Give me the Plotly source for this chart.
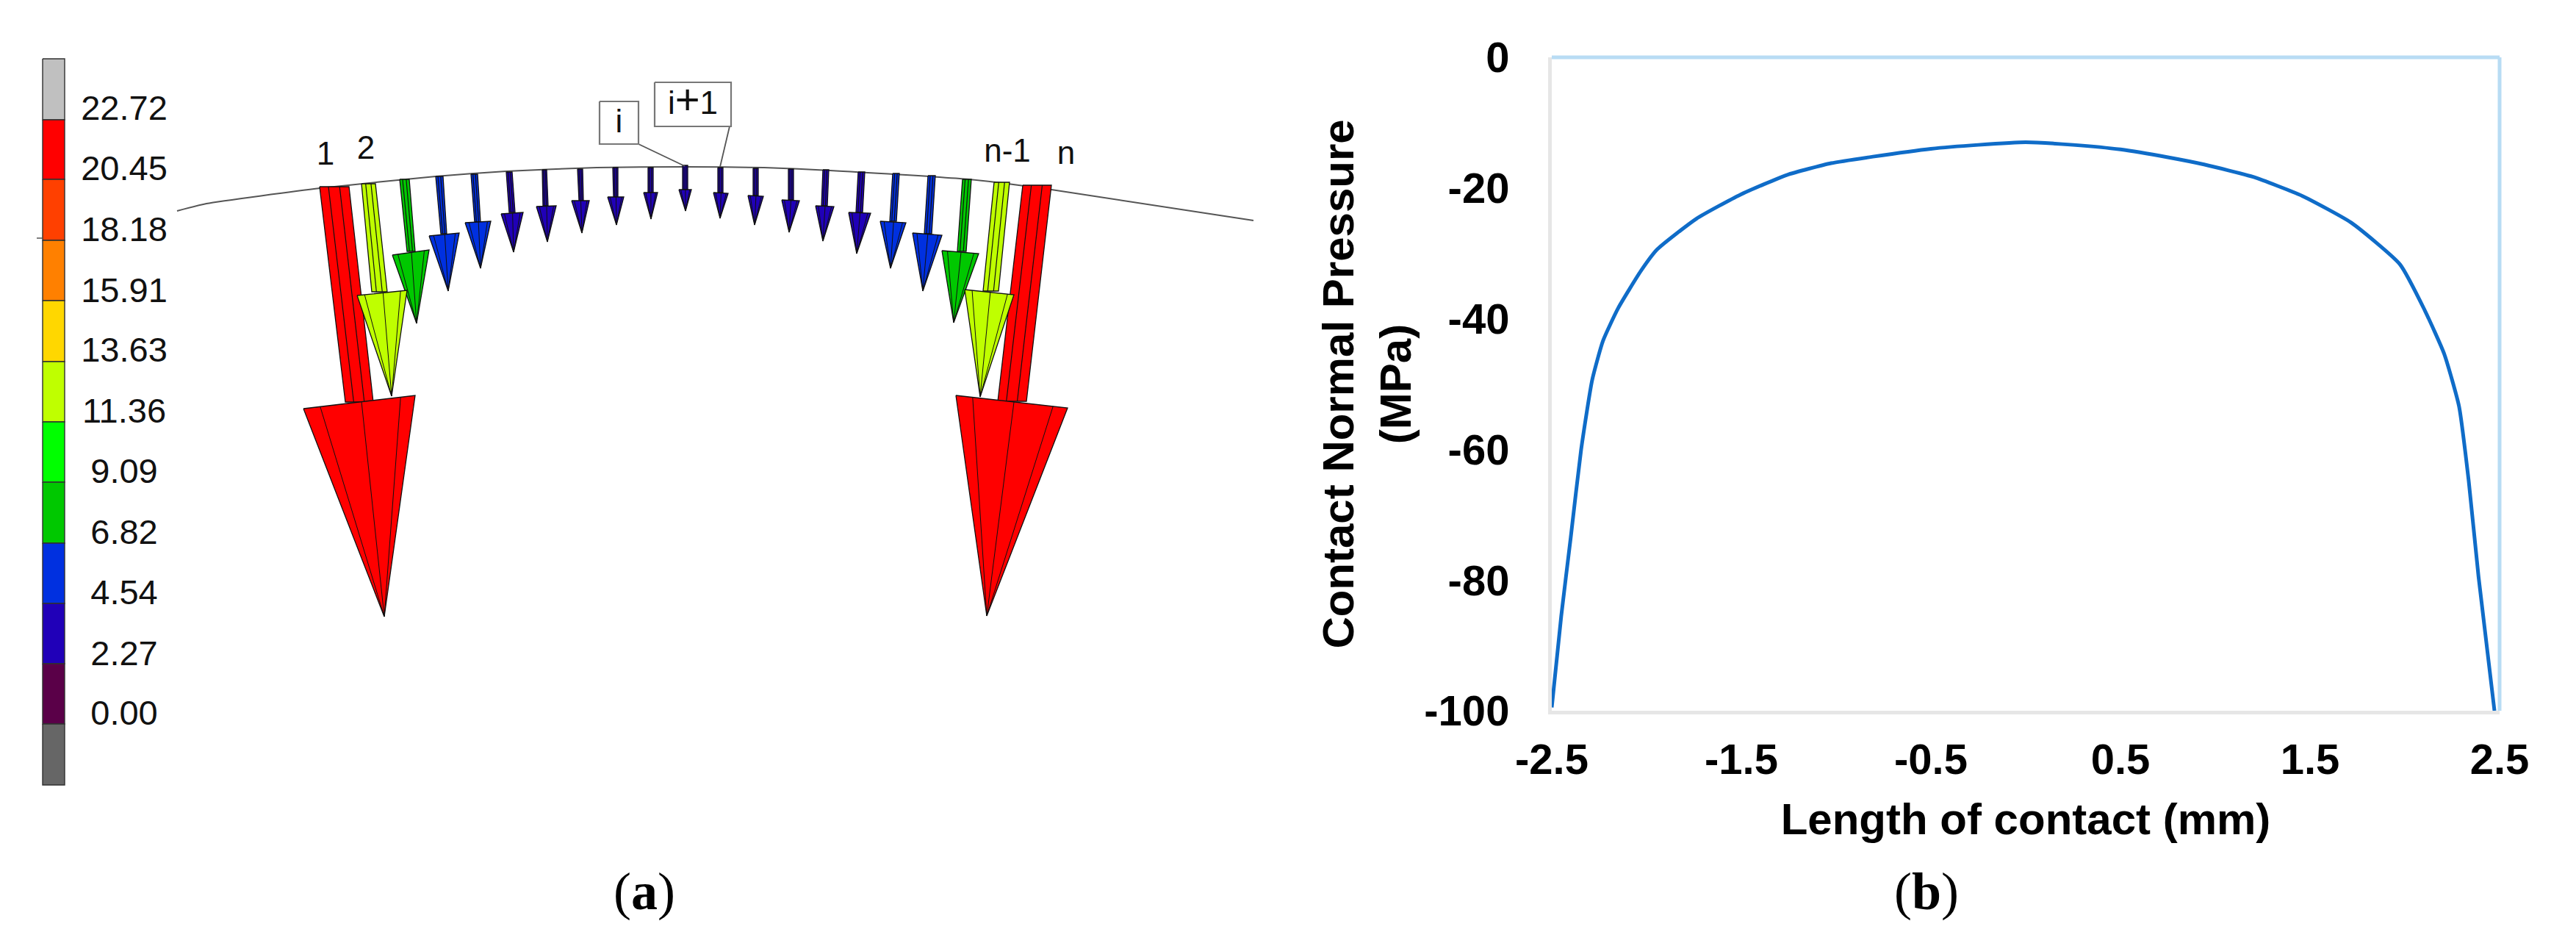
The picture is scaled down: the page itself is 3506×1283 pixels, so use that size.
import plotly.graph_objects as go

# ---------- panel (b): contact pressure curve ----------
contact_x = [-2.5, -2.45, -2.40, -2.345, -2.287, -2.23, -2.15, -2.03, -1.944, -1.737, -1.504, -1.26, -1.026,
             -0.806, -0.5, -0.25, 0.0, 0.25, 0.5, 0.75, 0.941, 1.2, 1.458, 1.717, 1.975, 2.105, 2.208, 2.286,
             2.337, 2.389, 2.473]
contact_p = [-99.5, -85.5, -73.5, -60, -49.4, -43.4, -38.4, -32.7, -29.4, -24.7, -21, -18, -16.2,
             -15.2, -14, -13.4, -13, -13.4, -14.1, -15.3, -16.4, -18.3, -21.2, -25.3, -31.7, -38.7, -45.4, -53.4,
             -64.8, -79.5, -100]
x_ticks = [-2.5, -1.5, -0.5, 0.5, 1.5, 2.5]
x_tick_text = ["-2.5", "-1.5", "-0.5", "0.5", "1.5", "2.5"]
y_ticks = [0, -20, -40, -60, -80, -100]
y_tick_text = ["0", "-20", "-40", "-60", "-80", "-100"]

# ---------- panel (a): legend ----------
legend_labels = ["22.72", "20.45", "18.18", "15.91", "13.63", "11.36", "9.09", "6.82", "4.54", "2.27", "0.00"]
legend_label_y = [151, 233, 316, 399, 480, 563, 645, 728, 810, 893, 974]
legend_colors = ["#c0c0c0", "#ff0000", "#ff4000", "#ff8000", "#ffd700", "#bfff00", "#00ff00", "#00c800",
                 "#0030e0", "#2000b8", "#5a0048", "#666666"]
legend_edges = [80, 163, 244, 327, 409, 492, 574, 656, 739, 821, 903, 985, 1068]

# ---------- panel (a): contact arc ----------
arc_x = [241, 281, 436, 593, 689, 812, 932, 1040, 1130, 1319, 1431, 1706]
arc_y = [287, 277, 256, 240, 233, 228, 227, 228, 232, 244, 258, 300]

# ---------- panel (a): force arrows, one entry per node ----------
top_l = [435, 492, 544, 593, 641, 689, 738, 786, 834, 882, 929, 977, 1025, 1073, 1120, 1168, 1215, 1263, 1310, 1353, 1392]
top_r = [475, 511, 557, 603, 650, 697, 744, 793, 841, 889, 936, 984, 1032, 1080, 1128, 1177, 1224, 1273, 1322, 1374, 1431]
top_y = [254, 250, 244, 240, 237, 234, 231, 230, 228, 228, 225, 228, 229, 230, 231, 234, 236, 239, 244, 248, 252]
neck_l = [470, 506, 554, 600, 646, 693, 739, 788, 835, 882, 929, 977, 1025, 1073, 1118, 1165, 1211, 1258, 1303, 1338, 1358]
neck_r = [508, 527, 565, 608, 654, 701, 746, 794, 841, 889, 936, 984, 1032, 1080, 1126, 1174, 1220, 1268, 1315, 1359, 1397]
neck_y = [547, 397, 342, 318, 302, 289, 280, 273, 268, 262, 258, 262, 266, 272, 280, 289, 301, 318, 342, 396, 546]
head_lx = [413, 486, 534, 584, 633, 682, 730, 778, 827, 876, 924, 971, 1018, 1064, 1110, 1155, 1198, 1242, 1282, 1313, 1301]
head_ly = [556, 402, 347, 321, 303, 291, 281, 273, 268, 262, 258, 262, 266, 272, 280, 289, 301, 317, 341, 394, 538]
head_rx = [565, 554, 584, 625, 668, 712, 757, 802, 849, 895, 941, 991, 1039, 1088, 1135, 1185, 1233, 1282, 1332, 1380, 1453]
head_ry = [538, 395, 340, 317, 301, 289, 280, 273, 268, 262, 258, 263, 267, 273, 281, 290, 303, 320, 345, 401, 555]
tip_x = [523, 533, 567, 610, 654, 699, 745, 792, 839, 886, 933, 980, 1027, 1074, 1120, 1166, 1212, 1256, 1298, 1334, 1343]
tip_y = [839, 539, 440, 396, 365, 343, 329, 317, 306, 298, 287, 297, 306, 316, 328, 345, 365, 396, 439, 540, 838]
arrow_color = [1, 5, 7, 8, 8, 9, 9, 9, 9, 9, 9, 9, 9, 9, 9, 9, 8, 8, 7, 5, 1]

node_labels = ["1", "2", "n-1", "n"]
node_label_x = [443, 498, 1371, 1451]
node_label_y = [213, 205, 209, 212]

callout_text = ["i", "i<span style='font-size:58px'>+</span>1"]
callout_x0 = [816, 891]
callout_x1 = [869, 995]
callout_y0 = [138, 112]
callout_y1 = [196, 172]
callout_text_y = [169, 144]
leader_x = [[869, 932], [993, 980]]
leader_y = [[196, 226], [172, 227]]

panel_labels = ["(<b>a</b>)", "(<b>b</b>)"]
panel_label_x = [877, 2622]
panel_label_y = [1219, 1219]

W, H = 3506, 1283
PLOT_L, PLOT_R, PLOT_T, PLOT_B = 2112, 3402, 78, 967
SANS = "Liberation Sans"
fig = go.Figure()


def canvas(x, y, **kw):
    fig.add_trace(go.Scatter(x=x, y=y, xaxis="x2", yaxis="y2", showlegend=False, hoverinfo="skip", **kw))


def poly(xs, ys, color, edge="#101010", width=1.3):
    canvas(xs + [xs[0]], ys + [ys[0]], mode="lines", fill="toself", fillcolor=color,
           line=dict(color=edge, width=width))


# legend
for i, c in enumerate(legend_colors):
    poly([58, 88, 88, 58], [legend_edges[i], legend_edges[i], legend_edges[i + 1], legend_edges[i + 1]], c,
         edge="#303030", width=1.4)
canvas([169] * len(legend_labels), legend_label_y, mode="text", text=legend_labels, textposition="middle center",
       textfont=dict(family=SANS, size=47, color="#111111"))

# small stub and arc
canvas([50, 58], [324, 324], mode="lines", line=dict(color="#555555", width=1.5))
canvas(arc_x, arc_y, mode="lines", line=dict(color="#555555", width=2, shape="spline", smoothing=0.5))

# shafts, then heads from the smallest to the largest
for i in range(len(top_l)):
    poly([top_l[i], top_r[i], neck_r[i], neck_l[i]], [top_y[i]] * 2 + [neck_y[i]] * 2, legend_colors[arrow_color[i]])
    lx, ly = [], []
    for f in (0.3, 0.68):
        lx += [top_l[i] + f * (top_r[i] - top_l[i]), neck_l[i] + f * (neck_r[i] - neck_l[i]), None]
        ly += [top_y[i], neck_y[i], None]
    canvas(lx, ly, mode="lines", line=dict(color="#101010", width=1.2))

for i in sorted(range(len(top_l)), key=lambda k: tip_y[k] - head_ly[k]):
    poly([head_lx[i], head_rx[i], tip_x[i]], [head_ly[i], head_ry[i], tip_y[i]], legend_colors[arrow_color[i]])
    lx, ly = [], []
    for f in (0.15, 0.52, 0.87):
        lx += [head_lx[i] + f * (head_rx[i] - head_lx[i]), tip_x[i], None]
        ly += [head_ly[i] + f * (head_ry[i] - head_ly[i]), tip_y[i], None]
    canvas(lx, ly, mode="lines", line=dict(color="#101010", width=1.0))

# callouts
for i in range(2):
    canvas(leader_x[i], leader_y[i], mode="lines", line=dict(color="#555555", width=1.8))
    poly([callout_x0[i], callout_x1[i], callout_x1[i], callout_x0[i]],
         [callout_y0[i], callout_y0[i], callout_y1[i], callout_y1[i]], "#ffffff", edge="#777777", width=2.2)
canvas([(a + b) / 2 for a, b in zip(callout_x0, callout_x1)], callout_text_y,
       mode="text", text=callout_text, textposition="middle center",
       textfont=dict(family=SANS, size=44, color="#111111"))
canvas(node_label_x, node_label_y, mode="text", text=node_labels, textposition="middle center",
       textfont=dict(family=SANS, size=44, color="#111111"))
canvas(panel_label_x, panel_label_y, mode="text", text=panel_labels, textposition="middle center",
       textfont=dict(family="Liberation Serif", size=72, color="#000000"))

# curve
fig.add_trace(go.Scatter(x=contact_x, y=contact_p, mode="lines", showlegend=False,
                         line=dict(color="#0f6cc8", width=5, shape="spline", smoothing=0.5)))

tick_font = dict(family=SANS, size=58, color="#000000", weight="bold")
title_font = dict(family=SANS, size=60, color="#000000", weight="bold")
fig.update_layout(
    width=W, height=H, margin=dict(l=0, r=0, t=0, b=0), autosize=False,
    paper_bgcolor="white", plot_bgcolor="rgba(0,0,0,0)",
    xaxis=dict(domain=[PLOT_L / W, PLOT_R / W], anchor="y", range=[-2.5, 2.5], tickmode="array", tickvals=x_ticks,
               ticktext=x_tick_text, tickfont=tick_font, showgrid=False, zeroline=False, ticks="", automargin=False,
               showline=True, linecolor="#e6e6e6", linewidth=5, ticklabelstandoff=11,
               title=dict(text="Length of contact (mm)", font=title_font, standoff=31)),
    yaxis=dict(domain=[1 - PLOT_B / H, 1 - PLOT_T / H], anchor="x", range=[-100, 0], tickmode="array",
               tickvals=y_ticks, ticktext=y_tick_text, tickfont=tick_font, showgrid=False, zeroline=False, ticks="", automargin=False,
               showline=True, linecolor="#e6e6e6", linewidth=5, ticklabelstandoff=41,
               title=dict(text="Contact Normal Pressure<br>(MPa)", font=title_font, standoff=0)),
    xaxis2=dict(domain=[0, 1], range=[0, W], visible=False, anchor="y2", fixedrange=True, automargin=False),
    yaxis2=dict(domain=[0, 1], range=[H, 0], visible=False, anchor="x2", fixedrange=True, automargin=False),
    shapes=[
        dict(type="line", xref="x domain", yref="y domain", x0=0, x1=1, y0=1, y1=1,
             line=dict(color="#b8dcf4", width=5)),
        dict(type="line", xref="x domain", yref="y domain", x0=1, x1=1, y0=0, y1=1,
             line=dict(color="#b8dcf4", width=5)),
    ],
)
fig.write_html("out.html", config={"displayModeBar": False}, post_script="document.body.style.margin='0';")
